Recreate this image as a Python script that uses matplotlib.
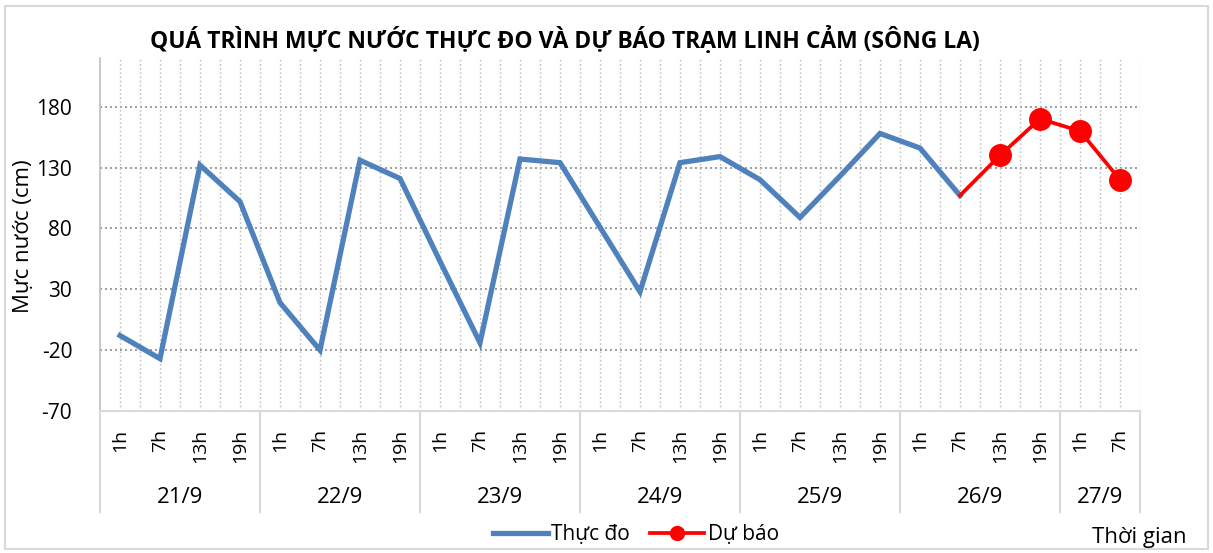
import numpy as np
import matplotlib
matplotlib.use("Agg")
import matplotlib.pyplot as plt
from matplotlib.patches import Rectangle
import matplotlib.transforms as mtransforms

plt.rcParams['font.family'] = ['Open Sans', 'DejaVu Sans']
plt.rcParams['axes.unicode_minus'] = False

# data
days = ["21/9", "22/9", "23/9", "24/9", "25/9", "26/9", "27/9"]
hours_per_day = [["1h", "7h", "13h", "19h"]] * 6 + [["1h", "7h"]]
hour_labels = [h for day in hours_per_day for h in day]

observed = [-8, -27, 132, 102,
            19, -20, 136, 121,
            53, -14, 137, 134,
            81, 28, 134, 139,
            120, 89, 123, 158,
            146, 107]
forecast_start = 21  # index of 26/9 7h, where forecast joins the observed line
forecast = [107, 140, 170, 160, 120]

blue = "#4F81BD"
red = "#FF0000"

fig = plt.figure(figsize=(12.13, 5.53), dpi=100)
ax = fig.add_axes([100 / 1213, 142 / 553, 1040 / 1213, 353 / 553])

x_obs = np.arange(len(observed))
x_fc = np.arange(forecast_start, forecast_start + len(forecast))

ax.plot(x_obs, observed, color=blue, lw=3.8, solid_joinstyle="miter", zorder=3)
ax.plot(x_fc, forecast, color=red, lw=2.7, zorder=4)
ax.plot(x_fc[1:], forecast[1:], "o", color=red, ms=15.5, zorder=5)

ax.set_xlim(-0.5, len(hour_labels) - 0.5)
ax.set_ylim(-70, 220)
ax.set_yticks([-70, -20, 30, 80, 130, 180])
ax.tick_params(axis="y", length=0, labelsize=15, pad=20)

ax.set_xticks(np.arange(len(hour_labels)))
ax.set_xticklabels(hour_labels, rotation=90, fontsize=14)
ax.tick_params(axis="x", length=0, pad=13)

# gridlines
for y in [-20, 30, 80, 130, 180]:
    ax.axhline(y, color="#8C8C8C", lw=1.2, ls=(0, (1.2, 1.8)), zorder=1)
for xv in np.arange(0, len(hour_labels), 0.5):
    ax.axvline(xv, color="#BFBFBF", lw=1.0, ls=(0, (1.2, 1.8)), zorder=1)

for s in ["top", "right"]:
    ax.spines[s].set_visible(False)
ax.spines["left"].set_color("#BFBFBF")
ax.spines["bottom"].set_color("#D9D9D9")
ax.spines["left"].set_linewidth(1.2)
ax.spines["bottom"].set_linewidth(1.5)

# day group labels and separators
trans = mtransforms.blended_transform_factory(ax.transData, ax.transAxes)
pos = -0.5
for day, hrs in zip(days, hours_per_day):
    ax.plot([pos, pos], [0, -0.286], transform=trans, color="#D9D9D9",
            lw=1.5, clip_on=False)
    ax.text(pos + len(hrs) / 2, -0.246, day, transform=trans, ha="center",
            va="center", fontsize=16)
    pos += len(hrs)
ax.plot([pos, pos], [0, -0.286], transform=trans, color="#D9D9D9",
        lw=1.5, clip_on=False)

fig.text(565 / 1213, 1 - 40 / 553, "QUÁ TRÌNH MỰC NƯỚC THỰC ĐO VÀ DỰ BÁO TRẠM LINH CẢM (SÔNG LA)",
         ha="center", va="center", fontsize=16.5, fontweight="bold")
fig.text(24 / 1213, 1 - 236 / 553, "Mực nước (cm)", rotation=90, ha="center",
         va="center", fontsize=16)
fig.text(1139 / 1213, 1 - 537 / 553, "Thời gian", ha="center", va="center", fontsize=16)

h1, = ax.plot([], [], color=blue, lw=3.8)
h2, = ax.plot([], [], color=red, lw=2.7, marker="o", ms=10)
fig.legend([h1, h2], ["Thực đo", "Dự báo"], loc="center",
           bbox_to_anchor=(636 / 1213, 1 - 535 / 553), ncol=2, frameon=False,
           fontsize=15, handlelength=2.6, handletextpad=0.15, columnspacing=1.0)

fig.patches.append(Rectangle((5 / 1213, 4 / 553), 1203 / 1213, 543 / 553,
                             transform=fig.transFigure, fill=False,
                             edgecolor="#D9D9D9", lw=1.5))

fig.savefig("out.png", dpi=100)
